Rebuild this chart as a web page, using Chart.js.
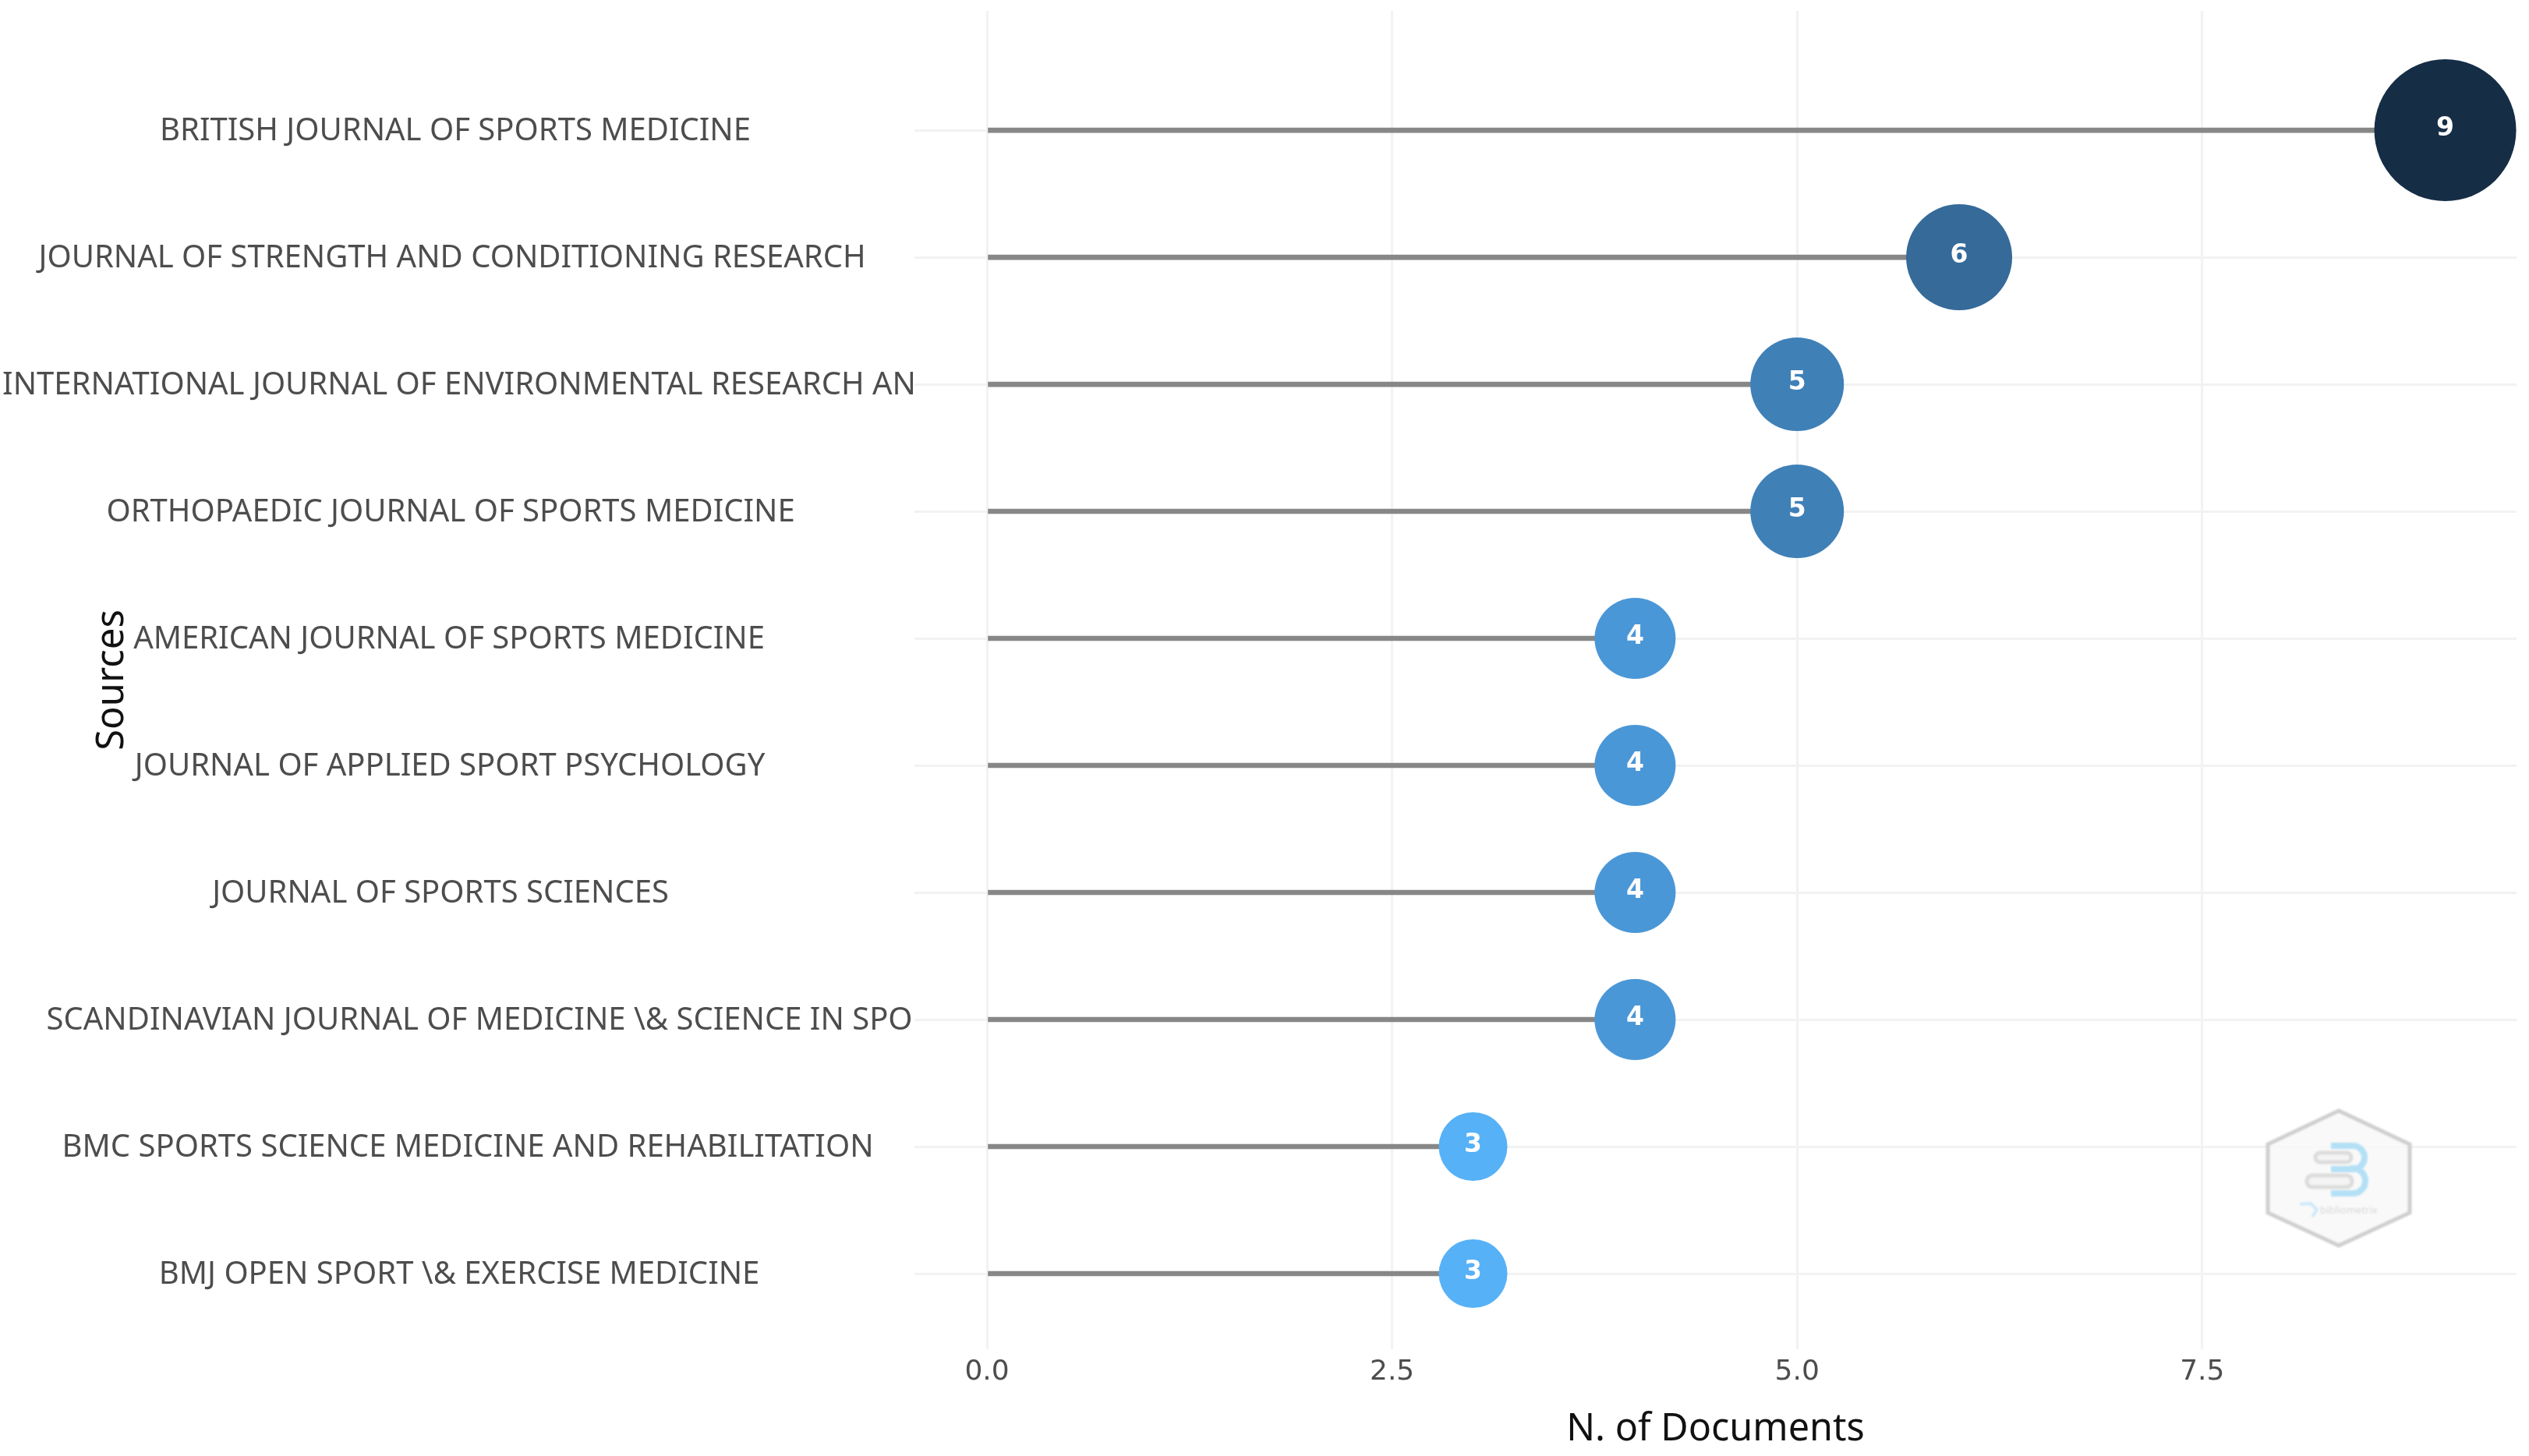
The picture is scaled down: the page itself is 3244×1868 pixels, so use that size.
<!DOCTYPE html>
<html>
<head>
<meta charset="utf-8">
<title>Most relevant sources</title>
<script src="https://cdn.jsdelivr.net/npm/chart.js@4"></script>
<style>
    html, body { margin: 0; padding: 0; background: #ffffff; }
    canvas { display: block; }
</style>
</head>
<body>
<canvas id="sourcesChart" width="3244" height="1868"></canvas>
<script>
const sources = [
    'BRITISH JOURNAL OF SPORTS MEDICINE',
    'JOURNAL OF STRENGTH AND CONDITIONING RESEARCH',
    'INTERNATIONAL JOURNAL OF ENVIRONMENTAL RESEARCH AN',
    'ORTHOPAEDIC JOURNAL OF SPORTS MEDICINE',
    'AMERICAN JOURNAL OF SPORTS MEDICINE',
    'JOURNAL OF APPLIED SPORT PSYCHOLOGY',
    'JOURNAL OF SPORTS SCIENCES',
    'SCANDINAVIAN JOURNAL OF MEDICINE \\& SCIENCE IN SPO',
    'BMC SPORTS SCIENCE MEDICINE AND REHABILITATION',
    'BMJ OPEN SPORT \\& EXERCISE MEDICINE'
];
const documents = [9, 6, 5, 5, 4, 4, 4, 4, 3, 3];
const xTickValues = [0, 2.5, 5, 7.5];

// marker look per document count
const bubbleRadius = { 3: 44, 4: 52, 5: 60, 6: 68, 9: 91 };
const bubbleColor = { 3: '#56B1F7', 4: '#4A97D7', 5: '#3F80B7', 6: '#356A99', 9: '#162D46' };
// small horizontal nudges of the source labels
const labelShift = [-3, -7, 2, -9, -11, -10, -22, 28, 13, 2];

const FONT = '"Noto Sans", sans-serif';
const DIGIT_FONT = '"DejaVu Sans", sans-serif';

const labelNudge = {
    id: 'labelNudge',
    afterLayout(chart) {
        chart.scales.y.getLabelItems().forEach((item, i) => {
            item.options.translation[0] += labelShift[i];
            item.options.translation[1] += 2;
        });
    }
};

const watermark = {
    id: 'watermark',
    beforeDatasetsDraw(chart) {
        const ctx = chart.ctx;
        ctx.save();
        ctx.filter = 'blur(0.8px)';
        ctx.beginPath();
        ctx.moveTo(3000, 1425);
        ctx.lineTo(3091, 1468);
        ctx.lineTo(3091, 1556);
        ctx.lineTo(3000, 1598);
        ctx.lineTo(2909, 1556);
        ctx.lineTo(2909, 1468);
        ctx.closePath();
        ctx.fillStyle = 'rgba(248,248,248,0.85)';
        ctx.fill();
        ctx.lineWidth = 5;
        ctx.strokeStyle = '#cfcfcf';
        ctx.stroke();

        // the blue "3"
        ctx.strokeStyle = '#b4e0f6';
        ctx.lineWidth = 8;
        ctx.beginPath();
        ctx.moveTo(2990, 1470);
        ctx.lineTo(3018, 1470);
        ctx.arc(3018, 1485, 15, -Math.PI / 2, Math.PI / 2);
        ctx.lineTo(2990, 1500);
        ctx.moveTo(3018, 1500);
        ctx.arc(3018, 1515, 16, -Math.PI / 2, Math.PI / 2);
        ctx.lineTo(2990, 1531);
        ctx.stroke();

        // the small blue swoosh before the name
        ctx.strokeStyle = '#cdeaf9';
        ctx.lineWidth = 4;
        ctx.beginPath();
        ctx.moveTo(2950, 1545);
        ctx.lineTo(2964, 1544);
        ctx.lineTo(2972, 1552);
        ctx.lineTo(2966, 1561);
        ctx.stroke();

        // the two grey book shapes
        ctx.strokeStyle = '#dcdcdc';
        ctx.lineWidth = 5;
        ctx.fillStyle = '#f4f4f4';
        ctx.beginPath();
        ctx.roundRect(2970, 1479, 46, 12, 6);
        ctx.roundRect(2959, 1508, 58, 15, 7);
        ctx.fill();
        ctx.stroke();

        ctx.fillStyle = '#d8d8d8';
        ctx.font = '13px ' + FONT;
        ctx.textAlign = 'left';
        ctx.textBaseline = 'middle';
        ctx.fillText('bibliometrix', 2976, 1553);
        ctx.restore();
    }
};

const bubbleValues = {
    id: 'bubbleValues',
    afterDatasetsDraw(chart) {
        const ctx = chart.ctx;
        ctx.save();
        ctx.fillStyle = '#ffffff';
        ctx.font = 'bold 33px ' + DIGIT_FONT;
        ctx.textAlign = 'center';
        ctx.textBaseline = 'middle';
        chart.getDatasetMeta(1).data.forEach((point, i) => {
            ctx.fillText(String(documents[i]), point.x, point.y - 2);
        });
        ctx.restore();
    }
};

new Chart(document.getElementById('sourcesChart').getContext('2d'), {
    type: 'bar',
    data: {
        datasets: [
            {
                type: 'bubble',
                data: sources.map((s, i) => ({ x: documents[i], y: i, r: bubbleRadius[documents[i]] })),
                backgroundColor: documents.map(d => bubbleColor[d]),
                borderWidth: 0,
                hoverBorderWidth: 0,
                clip: false,
                order: 1
            },
            {
                type: 'bar',
                data: sources.map((s, i) => ({ x: documents[i], y: i })),
                backgroundColor: '#878787',
                barThickness: 6,
                order: 2
            }
        ]
    },
    options: {
        indexAxis: 'y',
        responsive: false,
        devicePixelRatio: 1,
        animation: false,
        layout: { autoPadding: false, padding: { top: 14, right: 16, left: 0, bottom: 0 } },
        plugins: { legend: { display: false }, tooltip: { enabled: false } },
        scales: {
            x: {
                type: 'linear',
                min: -0.4475,
                max: 9.44,
                afterBuildTicks(scale) {
                    scale.ticks = xTickValues.map(value => ({ value }));
                },
                afterFit(scale) {
                    scale.height = 137;
                    scale.paddingLeft = 0;
                    scale.paddingRight = 0;
                },
                border: { display: false },
                grid: { color: '#f2f2f2', lineWidth: 3, drawTicks: false },
                ticks: {
                    padding: 8,
                    maxRotation: 0,
                    autoSkip: false,
                    color: '#4d4d4d',
                    font: { family: DIGIT_FONT, size: 36 },
                    callback: value => value.toFixed(1)
                },
                title: {
                    display: true,
                    text: 'N. of Documents',
                    color: '#111111',
                    font: { family: FONT, size: 48.5 },
                    padding: { top: 0, bottom: 5 }
                }
            },
            y: {
                type: 'linear',
                reverse: true,
                offset: false,
                min: -0.939,
                max: 9.595,
                afterBuildTicks(scale) {
                    scale.ticks = sources.map((s, i) => ({ value: i }));
                },
                afterFit(scale) {
                    scale.width = 1173;
                    scale.paddingTop = 0;
                    scale.paddingBottom = 0;
                },
                border: { display: false },
                grid: { offset: false, color: '#f2f2f2', lineWidth: 3, drawTicks: false },
                ticks: {
                    padding: 0,
                    crossAlign: 'center',
                    autoSkip: false,
                    color: '#4d4d4d',
                    font: { family: FONT, size: 40 },
                    callback: value => sources[value]
                },
                title: {
                    display: true,
                    text: 'Sources',
                    color: '#111111',
                    font: { family: FONT, size: 49 },
                    padding: { top: 115, bottom: 0 }
                }
            }
        }
    },
    plugins: [labelNudge, watermark, bubbleValues]
});
</script>
</body>
</html>
